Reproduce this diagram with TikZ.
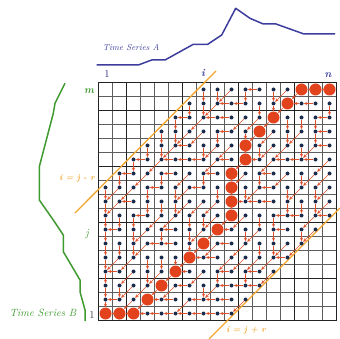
\documentclass[tikz,border=0pt]{standalone}
\usetikzlibrary{arrows.meta}
\definecolor{serA}{HTML}{3D3D9E}
\definecolor{serB}{HTML}{3F9A2F}
\definecolor{band}{HTML}{F2A52E}
\definecolor{navy}{HTML}{1B2B4B}
\definecolor{warp}{HTML}{E2431C}
\definecolor{arrred}{HTML}{E0502A}
\definecolor{gthin}{HTML}{5E5E5E}
\definecolor{gthick}{HTML}{222222}
\begin{document}
\begin{tikzpicture}[x=1pt,y=-1pt,
  celldot/.style={circle,fill=navy,inner sep=0pt,minimum size=4pt},
  warpdot/.style={circle,fill=warp,inner sep=0pt,minimum size=12pt},
  arr/.style={draw=arrred,line width=0.6pt,-{Stealth[length=3.4pt,width=3.2pt]},shorten >=0.2pt,shorten <=0.2pt},
  thinline/.style={draw=gthin,line width=0.55pt},
  thickline/.style={draw=gthick,line width=1pt},
  bandline/.style={draw=band,line width=1.3pt},
  axisbold/.style={font=\bfseries\itshape\fontsize{10.5}{12}\selectfont}]
\useasboundingbox (0,0) rectangle (340,339);
% grid
\foreach \k in {0,...,17}{
  \draw[thinline] ({98.5+14*\k},82.5) -- ({98.5+14*\k},320.5);
  \draw[thinline] (98.5,{82.5+14*\k}) -- (336.5,{82.5+14*\k});
}
\foreach \k in {2,6,10,14}{
  \draw[thickline] ({98.5+14*\k},82.5) -- ({98.5+14*\k},320.5);
}
\foreach \k in {3,7,11,15}{
  \draw[thickline] (98.5,{320.5-14*\k}) -- (336.5,{320.5-14*\k});
}
\draw[thickline] (98.5,82.5) rectangle (336.5,320.5);
% warping path cells with predecessor direction (1=left,2=down,3=diag,0=none)
\foreach \a/\b/\c in {0/0/0,1/0/1,2/0/1,3/1/3,4/2/3,5/3/3,6/4/3,7/5/3,8/6/3,9/7/3,9/8/2,9/9/2,9/10/2,10/11/3,10/12/2,11/13/3,12/14/3,13/15/3,14/16/3,15/16/1,16/16/1}{
  \expandafter\xdef\csname wp-\a-\b\endcsname{\c}
}
% band lines
\coordinate (u1) at (75,213);
\coordinate (u2) at (216,71);
\coordinate (l1) at (209,339);
\coordinate (l2) at (340,208);
\draw[bandline] (u1) -- (u2);
\draw[bandline] (l1) -- (l2);
% cell dots
\foreach \j in {0,...,16}{
  \foreach \i in {0,...,16}{
    \pgfmathtruncatemacro\inb{abs(\i-\j)<=9 ? 1 : 0}
    \ifnum\inb=1
      \ifcsname wp-\i-\j\endcsname
        \node[warpdot] (c-\i-\j) at ({105.5+14*\i},{313.5-14*\j}) {};
      \else
        \node[celldot] (c-\i-\j) at ({105.5+14*\i},{313.5-14*\j}) {};
      \fi
    \fi
  }
}
% back-pointer arrows
\foreach \j in {0,...,16}{
  \foreach \i in {0,...,16}{
    \pgfmathtruncatemacro\inb{abs(\i-\j)<=9 ? 1 : 0}
    \ifnum\inb=1
      \ifcsname wp-\i-\j\endcsname
        \edef\dir{\csname wp-\i-\j\endcsname}
      \else
        \pgfmathtruncatemacro\h{mod(7*\i+13*\j+3*\i*\j,10)}
        \pgfmathtruncatemacro\dd{mod(\i-\j+40,4)}
        \pgfmathtruncatemacro\dir{(\dd==1 && \h<7) ? 3 : (\h<3 ? 3 : (\h<7 ? 1 : 2))}
        \pgfmathtruncatemacro\dlt{\i-\j}
        \ifnum\dlt=-9 \ifnum\dir=1 \def\dir{2}\fi\fi
        \ifnum\dlt=9 \ifnum\dir=2 \def\dir{1}\fi\fi
        \ifnum\i=0 \def\dir{2}\fi
        \ifnum\j=0 \def\dir{1}\fi
      \fi
      \ifnum\dir=1 \pgfmathtruncatemacro\pix{\i-1}\edef\pjx{\j}\fi
      \ifnum\dir=2 \edef\pix{\i}\pgfmathtruncatemacro\pjx{\j-1}\fi
      \ifnum\dir=3 \pgfmathtruncatemacro\pix{\i-1}\pgfmathtruncatemacro\pjx{\j-1}\fi
      \ifnum\dir>0
        \draw[arr] (c-\i-\j) -- (c-\pix-\pjx);
      \fi
    \fi
  }
}
% time series A
\draw[serA,line width=1.5pt,line join=round] (96.7,65) -- (138.3,65) -- (151.7,60) -- (165,60) -- (193.3,44.3) -- (207.7,44.3) -- (221.7,35) -- (235.7,8.3) -- (250,18.3) -- (263.3,24) -- (276,24) -- (304,34) -- (335,34);
% time series B
\draw[serB,line width=1.5pt,line join=round] (65,83.3) -- (55,103.3) -- (53.3,113.3) -- (39.3,166.7) -- (39.3,200) -- (53.3,220) -- (63.3,235) -- (63.3,251.7) -- (80,280) -- (80,291.7) -- (85,310) -- (85,321);
% labels
\node[text=serA,font=\itshape\fontsize{8.6}{10}\selectfont] (tsa) at (131,48) {Time Series A};
\node[text=serB,font=\itshape\fontsize{10.5}{12}\selectfont] (tsb) at (43,313) {Time Series B};
\node[text=serA!80!black,font=\fontsize{10.5}{12}\selectfont] (one-a) at (107,74) {1};
\node[axisbold,text=serA] (lab-i) at (203,73) {i};
\node[axisbold,text=serA] (lab-n) at (328,75) {n};
\node[axisbold,text=serB] (lab-m) at (89,91) {m};
\node[text=serB,font=\itshape\fontsize{11}{12}\selectfont] (lab-j) at (87,234) {j};
\node[text=black!75,font=\fontsize{10.5}{12}\selectfont] (one-b) at (92,315) {1};
\node[text=band,font=\bfseries\itshape\fontsize{8.5}{10}\selectfont] (lab-u) at (77,178) {i = j - r};
\node[text=band,font=\bfseries\itshape\fontsize{8.5}{10}\selectfont] (lab-l) at (246,330) {i = j + r};
\end{tikzpicture}
\end{document}
